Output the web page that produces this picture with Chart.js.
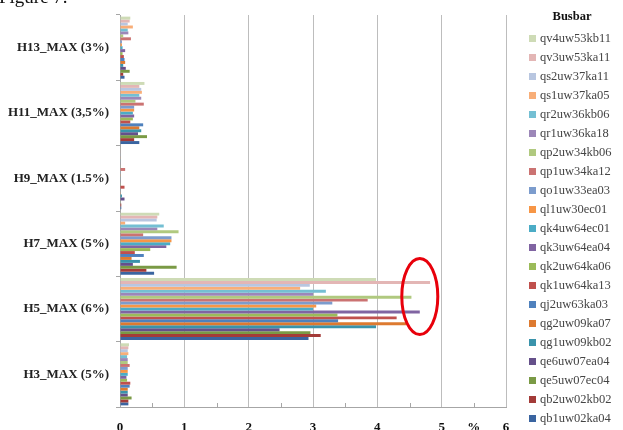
<!DOCTYPE html>
<html>
<head>
<meta charset="utf-8">
<script src="https://cdn.jsdelivr.net/npm/chart.js@4/dist/chart.umd.min.js"></script>
<style>
  html, body { margin: 0; padding: 0; background: #fff; }
  #wrap { position: relative; width: 623px; height: 430px; overflow: hidden; background: #fff; }
  #chart { position: absolute; left: 0; top: 0; }
  #fig { position: absolute; left: -1px; top: -13px; font: 19px 'Liberation Serif', serif; color: #111; line-height: 19px; white-space: nowrap; }
  #legend { position: absolute; left: 0; top: 0; width: 623px; height: 430px; font-family: 'Liberation Serif', serif; pointer-events: none; }
  #legend .title { position: absolute; left: 540px; width: 64px; top: 9px; text-align: center; font-weight: bold; font-size: 12.5px; color: #111; }
  #legend .item { position: absolute; left: 529px; height: 19px; display: flex; align-items: center; font-size: 12.5px; color: #444; white-space: nowrap; }
  #legend .box { width: 7px; height: 7px; margin-right: 4px; }
</style>
</head>
<body>
<div id="wrap">
  <canvas id="chart" width="623" height="430"></canvas>
  <div id="fig">Figure 7.</div>
  <div id="legend"></div>
</div>
<script>
// Harmonic categories, listed top to bottom
const categories = ['H13_MAX (3%)', 'H11_MAX (3,5%)', 'H9_MAX (1.5%)', 'H7_MAX (5%)', 'H5_MAX (6%)', 'H3_MAX (5%)'];

// Busbars, in legend order (top bar of each group first)
const busbars = [
  'qv4uw53kb11', 'qv3uw53ka11', 'qs2uw37ka11', 'qs1uw37ka05', 'qr2uw36kb06',
  'qr1uw36ka18', 'qp2uw34kb06', 'qp1uw34ka12', 'qo1uw33ea03', 'ql1uw30ec01',
  'qk4uw64ec01', 'qk3uw64ea04', 'qk2uw64ka06', 'qk1uw64ka13', 'qj2uw63ka03',
  'qg2uw09ka07', 'qg1uw09kb02', 'qe6uw07ea04', 'qe5uw07ec04', 'qb2uw02kb02',
  'qb1uw02ka04'
];

const busbarColors = [
  '#CEDBB6', '#E3B6B5', '#B8C6E0', '#F8AE78', '#74BFD3',
  '#9C87B8', '#B0C97F', '#CB7372', '#7C9CCD', '#F79646',
  '#4BACC6', '#8064A2', '#9BBB59', '#C0504D', '#4F81BD',
  '#DD7A30', '#3A93AB', '#65508A', '#7A9A45', '#A33B38',
  '#3A64A0'
];

// Maximum harmonic distortion per busbar (%), same order as busbars
const h13 = [0.16, 0.15, 0.12, 0.20, 0.12, 0.13, 0.05, 0.17, 0.03, 0.03, 0.04, 0.08, 0.04, 0.06, 0.07, 0.08, 0.05, 0.09, 0.15, 0.05, 0.07];
const h11 = [0.38, 0.30, 0.33, 0.34, 0.30, 0.33, 0.24, 0.37, 0.22, 0.22, 0.20, 0.22, 0.20, 0.16, 0.36, 0.30, 0.33, 0.28, 0.42, 0.22, 0.30];
const h9  = [0.01, 0.01, 0.01, 0.01, 0.01, 0.01, 0.01, 0.08, 0.01, 0.01, 0.01, 0.01, 0.01, 0.07, 0.01, 0.01, 0.03, 0.07, 0.01, 0.02, 0.02];
const h7  = [0.61, 0.58, 0.57, 0.08, 0.68, 0.58, 0.91, 0.36, 0.80, 0.80, 0.78, 0.72, 0.47, 0.23, 0.37, 0.18, 0.31, 0.20, 0.88, 0.41, 0.53];
const h5  = [3.98, 4.82, 2.95, 2.80, 3.20, 3.00, 4.53, 3.85, 3.30, 3.05, 3.00, 4.66, 3.38, 4.30, 3.39, 4.45, 3.98, 2.48, 2.96, 3.12, 2.93];
const h3  = [0.14, 0.13, 0.12, 0.13, 0.11, 0.12, 0.12, 0.15, 0.12, 0.12, 0.12, 0.10, 0.11, 0.16, 0.15, 0.12, 0.12, 0.12, 0.18, 0.13, 0.13];

const byCategory = [h13, h11, h9, h7, h5, h3];

// X axis: integer labels, "%" unit between 5 and 6
const xTickLabels = { 0: '0', 1: '1', 2: '2', 3: '3', 4: '4', 5: '5', 5.5: '%', 6: '6' };

const datasets = busbars.map((name, i) => ({
  label: name,
  data: byCategory.map(arr => arr[i]),
  backgroundColor: busbarColors[i],
  borderWidth: 0,
  categoryPercentage: 0.95,
  barPercentage: 1.0
}));

// Small inner tick marks at half units, and the red highlight ellipse
const extras = {
  id: 'extras',
  afterDatasetsDraw(chart) {
    const { ctx, chartArea, scales } = chart;
    const xs = scales.x, ys = scales.y;
    ctx.save();
    ctx.strokeStyle = '#A6A6A6';
    ctx.lineWidth = 1;
    for (let v = 0.5; v < 6; v += 1) {
      const px = Math.round(xs.getPixelForValue(v)) + 0.5;
      ctx.beginPath();
      ctx.moveTo(px, chartArea.bottom);
      ctx.lineTo(px, chartArea.bottom - 4);
      ctx.stroke();
    }
    // highlight around the highest H5 values
    const catH = ys.getPixelForValue(1) - ys.getPixelForValue(0);
    const cx = xs.getPixelForValue(4.66);
    const cy = ys.getPixelForValue(4) - 0.19 * catH;
    ctx.strokeStyle = '#E8000B';
    ctx.lineWidth = 3;
    ctx.beginPath();
    ctx.ellipse(cx, cy, 18, 38, 0, 0, Math.PI * 2);
    ctx.stroke();
    ctx.restore();
  }
};

new Chart(document.getElementById('chart'), {
  type: 'bar',
  data: { labels: categories, datasets },
  plugins: [extras],
  options: {
    indexAxis: 'y',
    responsive: false,
    animation: false,
    layout: { padding: { top: 15, right: 117, left: 0, bottom: 0 } },
    plugins: { legend: { display: false }, tooltip: { enabled: false } },
    scales: {
      x: {
        type: 'linear',
        min: 0,
        max: 6,
        afterFit: s => { s.height = 23; },
        afterBuildTicks: s => {
          s.ticks = [0, 0.5, 1, 1.5, 2, 2.5, 3, 3.5, 4, 4.5, 5, 5.5, 6].map(v => ({ value: v }));
        },
        ticks: {
          autoSkip: false,
          maxRotation: 0,
          padding: 13,
          color: '#111',
          font: { family: 'Liberation Serif', size: 13, weight: 'bold' },
          callback: v => (xTickLabels[v] !== undefined ? xTickLabels[v] : '')
        },
        grid: {
          drawTicks: false,
          color: c => (c.tick && Number.isInteger(c.tick.value) && c.tick.value > 0 ? '#BDBDBD' : 'rgba(0,0,0,0)'),
          lineWidth: 1
        },
        border: { color: '#A6A6A6' }
      },
      y: {
        type: 'category',
        offset: true,
        afterFit: s => { s.width = 120; },
        ticks: {
          padding: 7,
          color: '#222',
          font: { family: 'Liberation Serif', size: 13, weight: 'bold' }
        },
        grid: {
          offset: true,
          drawOnChartArea: false,
          tickLength: 4,
          color: '#A6A6A6'
        },
        border: { color: '#A6A6A6' }
      }
    }
  }
});

// Legend listing the busbars
const legend = document.getElementById('legend');
const title = document.createElement('div');
title.className = 'title';
title.textContent = 'Busbar';
legend.appendChild(title);
busbars.forEach((name, i) => {
  const item = document.createElement('div');
  item.className = 'item';
  item.style.top = (28.5 + i * 19) + 'px';
  const box = document.createElement('span');
  box.className = 'box';
  box.style.background = busbarColors[i];
  const label = document.createElement('span');
  label.textContent = name;
  item.appendChild(box);
  item.appendChild(label);
  legend.appendChild(item);
});
</script>
</body>
</html>
